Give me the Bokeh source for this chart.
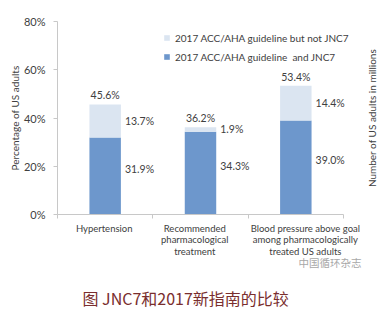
from bokeh.plotting import figure
from bokeh.layouts import row
from bokeh.models import (ColumnDataSource, Range1d, FixedTicker, Legend, LegendItem, Title)
from bokeh.core.properties import value
from bokeh.embed import file_html
from bokeh.resources import INLINE

categories = ["Hypertension",
              "Recommended\npharmacological\ntreatment",
              "Blood pressure above goal\namong pharmacologically\ntreated US adults"]
both_guidelines = [31.9, 34.3, 39.0]
only_2017 = [13.7, 1.9, 14.4]
totals = [45.6, 36.2, 53.4]
y_ticks = [0, 20, 40, 60, 80]
y_tick_labels = ["0%", "20%", "40%", "60%", "80%"]
series_names = ["2017 ACC/AHA guideline  and JNC7", "2017 ACC/AHA guideline but not JNC7"]
left_title = "Percentage of US adults"
right_title = "Number of US adults in millions"
caption = "图 JNC7和2017新指南的比较"
source_note = "中国循环杂志"

FONT = "Lato"
TXT = "#404040"
DARK = "#6d97cc"
LIGHT = "#dbe5f1"
AXC = "#c8c8c8"
BAR_W = 0.33
N = len(categories)

xs = [i + 0.5 for i in range(N)]
src = ColumnDataSource(dict(
    x=xs,
    both=both_guidelines,
    only=only_2017,
    total=totals,
    x_right=[x + BAR_W / 2 for x in xs],
    both_mid=[b / 2 for b in both_guidelines],
    only_mid=[b + o / 2 for b, o in zip(both_guidelines, only_2017)],
    both_lbl=[f"{v:.1f}%" for v in both_guidelines],
    only_lbl=[f"{v:.1f}%" for v in only_2017],
    total_lbl=[f"{v:.1f}%" for v in totals],
))

p = figure(width=365, height=317, x_range=Range1d(0, 3.084), y_range=Range1d(0, 80),
           output_backend="svg", toolbar_location=None,
           min_border_left=57, min_border_right=14, min_border_top=21, min_border_bottom=103)
p.outline_line_color = None
p.grid.visible = False
p.background_fill_color = "white"

rs = p.vbar_stack(["both", "only"], x="x", width=BAR_W, source=src,
                  fill_color=[DARK, LIGHT], line_color=None)

# y axis
ya = p.yaxis[0]
ya.ticker = FixedTicker(ticks=y_ticks)
ya.major_label_overrides = {t: l for t, l in zip(y_ticks, y_tick_labels)}
ya.minor_tick_line_color = None
ya.major_tick_in = 0
ya.major_tick_out = 4
ya.axis_line_color = AXC
ya.major_tick_line_color = AXC
ya.major_label_text_font = FONT
ya.major_label_text_font_size = "11px"
ya.major_label_text_color = TXT
ya.major_label_standoff = 8
ya.axis_label = left_title
ya.axis_label_text_font = FONT
ya.axis_label_text_font_size = "10px"
ya.axis_label_text_font_style = "normal"
ya.axis_label_text_color = TXT
ya.axis_label_standoff = 0

# x axis: category names as (multi-line) tick labels, boundary ticks as minor ticks
cat_x = [0.49, 1.44, 2.6]
xa = p.xaxis[0]
xa.ticker = FixedTicker(ticks=cat_x, minor_ticks=list(range(N + 1)))
xa.major_label_overrides = {x: c for x, c in zip(cat_x, categories)}
xa.bounds = (0, N)
xa.major_tick_line_color = None
xa.major_tick_in = 0
xa.major_tick_out = 0
xa.minor_tick_in = 0
xa.minor_tick_out = 4
xa.minor_tick_line_color = AXC
xa.axis_line_color = AXC
xa.major_label_standoff = 4
xa.major_label_text_font = FONT
xa.major_label_text_font_size = "9.5px"
xa.major_label_text_line_height = 1.05
xa.major_label_text_color = TXT

# value labels
common = dict(text_font=value(FONT), text_font_size="10.5px", text_color=TXT)
p.text(x="x", y="total", text="total_lbl", text_align="center", text_baseline="bottom",
       y_offset=-3, source=src, **common)
p.text(x="x_right", y="only_mid", text="only_lbl", text_align="left", text_baseline="middle",
       x_offset=4, source=src, **common)
p.text(x="x_right", y="both_mid", text="both_lbl", text_align="left", text_baseline="middle",
       x_offset=4, y_offset=-7, source=src, **common)

# legend
legend = Legend(items=[LegendItem(label=series_names[1], renderers=[rs[1]]),
                       LegendItem(label=series_names[0], renderers=[rs[0]])],
                location=(106, 151), orientation="vertical",
                glyph_width=7, glyph_height=7, label_height=13, spacing=6,
                label_standoff=5, padding=0, margin=0,
                border_line_alpha=0, background_fill_alpha=0,
                label_text_font=FONT, label_text_font_size="10px", label_text_color=TXT)
p.add_layout(legend)

# source mark and caption below
p.add_layout(Title(text=source_note + "\n ", align="left", offset=241, standoff=-14,
                   text_font="Noto Sans CJK SC", text_font_size="10.5px",
                   text_font_style="normal", text_color="#a8a8a8"), "below")
p.add_layout(Title(text=caption, align="left", offset=25, standoff=13,
                   text_font="Noto Sans CJK SC", text_font_size="16px",
                   text_font_style="normal", text_color="#7a2e2e"), "below")

# narrow strip on the right carrying the secondary axis title (cut at the page edge)
p2 = figure(width=12, height=317, x_range=Range1d(0, 1), y_range=Range1d(0, 80),
            output_backend="svg", toolbar_location=None,
            min_border_left=9, min_border_right=0, min_border_top=21, min_border_bottom=103)
p2.outline_line_color = None
p2.grid.visible = False
p2.xaxis.visible = False
ra = p2.yaxis[0]
ra.ticker = FixedTicker(ticks=[])
ra.axis_line_color = None
ra.major_tick_line_color = None
ra.minor_tick_line_color = None
ra.major_tick_out = 0
ra.major_tick_in = 0
ra.major_label_standoff = 0
ra.major_label_text_font_size = "0px"
ra.axis_label = right_title
ra.axis_label_text_font = FONT
ra.axis_label_text_font_size = "10px"
ra.axis_label_text_font_style = "normal"
ra.axis_label_text_color = TXT
ra.axis_label_standoff = 0

layout = row(p, p2, spacing=0)
open("out.html", "w").write(file_html(layout, INLINE))
